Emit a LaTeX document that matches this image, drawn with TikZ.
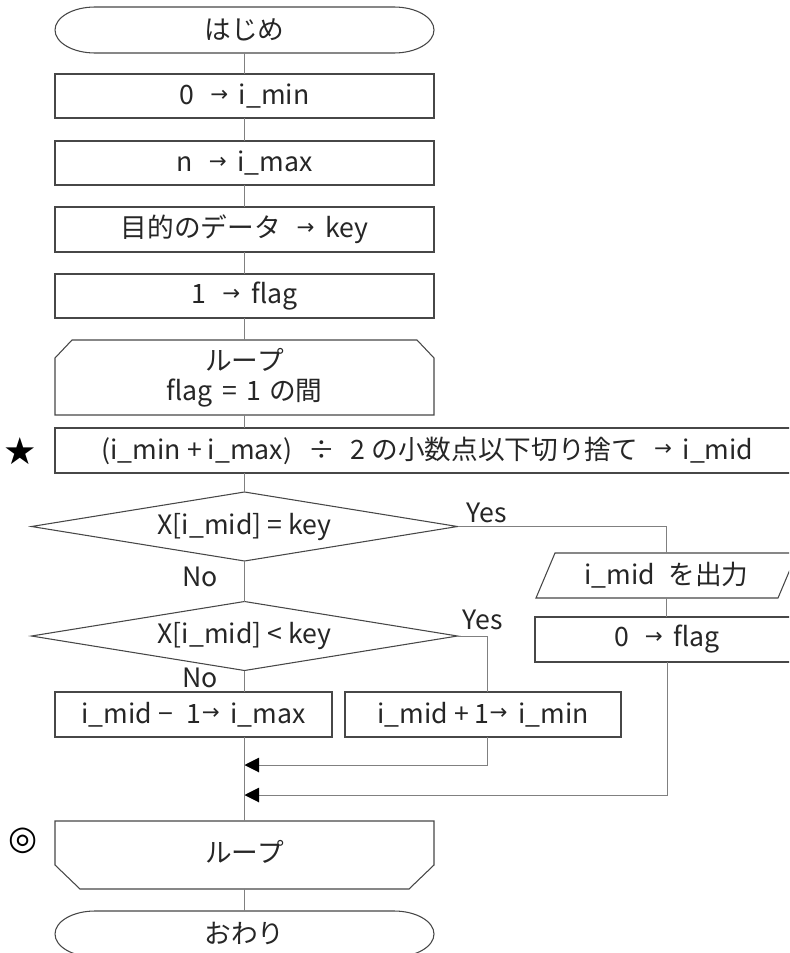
\documentclass[tikz,border=0pt]{standalone}
\usepackage{fontspec}
\setmainfont{Noto Sans CJK JP}
\newfontfamily\symfont{DejaVu Sans}
\usetikzlibrary{arrows.meta,calc}
% small assignment arrow, with and without a leading gap
\newcommand\tinyarrow{\raisebox{2.5pt}{\symfont\fontsize{16pt}{16pt}\selectfont →}}
\newcommand\assign{\hspace{0.6em}\tinyarrow\hspace{0.4em}}
\newcommand\assignnear{\tinyarrow\hspace{0.4em}}

\begin{document}
\begin{tikzpicture}[x=0.75pt,y=-0.75pt,
  every node/.style={font=\fontsize{20pt}{22.5pt}\selectfont, text=black!85, inner sep=0pt},
  outline/.style={draw=black!72, line width=0.8pt},
  shapenode/.style={rectangle, draw=none, outer sep=0pt},
  boxnode/.style={rectangle, outline, outer sep=0pt},
  flow/.style={draw=black!50, line width=0.75pt},
  merge/.style={flow, -{Triangle[length=11pt,width=11pt,color=black]}},
  starmark/.style={font=\symfont\fontsize{28pt}{30pt}\selectfont, text=black},
  ringmark/.style={font=\symfont\fontsize{25pt}{28pt}\selectfont, text=black}
]
\useasboundingbox (0,0) rectangle (789,953);
\clip (0,0) rectangle (789,953);

% terminals, process boxes and loop limits
\node[shapenode, minimum width=284.25pt, minimum height=34.5pt] (st) at (244.5,30) {はじめ};
\node[boxnode, minimum width=284.25pt, minimum height=33pt] (b1) at (244.5,96) {0\assign i\_min};
\node[boxnode, minimum width=284.25pt, minimum height=33pt] (b2) at (244.5,163) {n\assign i\_max};
\node[boxnode, minimum width=284.25pt, minimum height=33.75pt] (b3) at (244.5,229.5) {目的のデータ\assign key};
\node[boxnode, minimum width=284.25pt, minimum height=33pt] (b4) at (244.5,296) {1\assign flag};
\node[shapenode, minimum width=284.25pt, minimum height=56.25pt, align=center] (ls) at (244.5,377.5) {ループ\\flag\hspace{0.35em}=\hspace{0.35em}1\hspace{0.3em}の間};
\node[boxnode, minimum width=558.75pt, minimum height=33.75pt] (sb) at (427.5,450.5) {(i\_min + i\_max)\hspace{0.6em}÷\hspace{0.6em}2 の小数点以下切り捨て\assign i\_mid};
\node[shapenode, minimum width=319.5pt, minimum height=51.75pt] (d1) at (244.5,526.5) {X[i\_mid] = key};
\node[shapenode, minimum width=319.5pt, minimum height=51.75pt] (d2) at (244.5,636) {X[i\_mid] < key};
\node[shapenode, minimum width=181.5pt, minimum height=33.75pt] (pa) at (666.5,575.5) {i\_mid\hspace{0.5em}を出力};
\node[boxnode, minimum width=198pt, minimum height=33.75pt] (fl) at (667,639.5) {0\assign flag};
\node[boxnode, minimum width=207.75pt, minimum height=33.75pt] (mi) at (193.5,714.5) {i\_mid − \hspace{0.3em}1\assignnear i\_max};
\node[boxnode, minimum width=207pt, minimum height=33.75pt] (pl) at (483,714.5) {i\_mid + 1\assignnear i\_min};
\node[shapenode, minimum width=284.25pt, minimum height=51pt] (le) at (244.5,855) {\raisebox{5.25pt}{ループ}};
\node[shapenode, minimum width=284.25pt, minimum height=34.5pt] (en) at (244.5,934) {おわり};

% outlines of the non-rectangular symbols
\draw[outline] ([xshift=30pt]st.north west) -- ([xshift=-30pt]st.north east)
  arc[start angle=90,end angle=-90,x radius=30pt,y radius=17.25pt]
  -- ([xshift=30pt]st.south west)
  arc[start angle=270,end angle=90,x radius=30pt,y radius=17.25pt] -- cycle;
\draw[outline] ([xshift=30pt]en.north west) -- ([xshift=-30pt]en.north east)
  arc[start angle=90,end angle=-90,x radius=30pt,y radius=17.25pt]
  -- ([xshift=30pt]en.south west)
  arc[start angle=270,end angle=90,x radius=30pt,y radius=17.25pt] -- cycle;
\draw[outline] ([yshift=-13.5pt]ls.north west) -- ([xshift=12.75pt]ls.north west)
  -- ([xshift=-12.75pt]ls.north east) -- ([yshift=-13.5pt]ls.north east)
  -- (ls.south east) -- (ls.south west) -- cycle;
\draw[outline] (le.north west) -- (le.north east) -- ([yshift=18pt]le.south east)
  -- ([xshift=-18.75pt]le.south east) -- ([xshift=18.75pt]le.south west)
  -- ([yshift=18pt]le.south west) -- cycle;
\draw[outline] (d1.west) -- (d1.north) -- (d1.east) -- (d1.south) -- cycle;
\draw[outline] (d2.west) -- (d2.north) -- (d2.east) -- (d2.south) -- cycle;
\draw[outline] ([xshift=7.125pt]pa.north west) -- ([xshift=7.125pt]pa.north east)
  -- ([xshift=-7.125pt]pa.south east) -- ([xshift=-7.125pt]pa.south west) -- cycle;

% branch labels and side marks
\node (y1) at (487,513) {Yes};
\node (y2) at (483,620) {Yes};
\node (n1) at (200,577) {No};
\node (n2) at (200,678) {No};
\node[starmark] (star) at (20,451) {★};
\node[ringmark] (dbl) at (23,841) {◎};

% connectors
\coordinate (ry) at (487,0);
\coordinate (jA) at (244.5,765);
\coordinate (jB) at (244.5,795);
\draw[flow] (st.south) -- (b1.north);
\draw[flow] (b1.south) -- (b2.north);
\draw[flow] (b2.south) -- (b3.north);
\draw[flow] (b3.south) -- (b4.north);
\draw[flow] (b4.south) -- (ls.north);
\draw[flow] (ls.south) -- (ls.south |- sb.north);
\draw[flow] (d1.north |- sb.south) -- (d1.north);
\draw[flow] (d1.south) -- (d2.north);
\draw[flow] (d2.south) -- (d2.south |- mi.north);
\draw[flow] (d1.east) -| (pa.north);
\draw[flow] (pa.south) -- (pa.south |- fl.north);
\draw[flow] (d2.east) -| (ry |- pl.north);
\draw[merge] (ry |- pl.south) |- (jA);
\draw[merge] (fl.south) |- (jB);
\draw[flow] (le.north |- mi.south) -- (le.north);
\draw[flow] (le.south) -- (en.north);
\end{tikzpicture}
\end{document}
